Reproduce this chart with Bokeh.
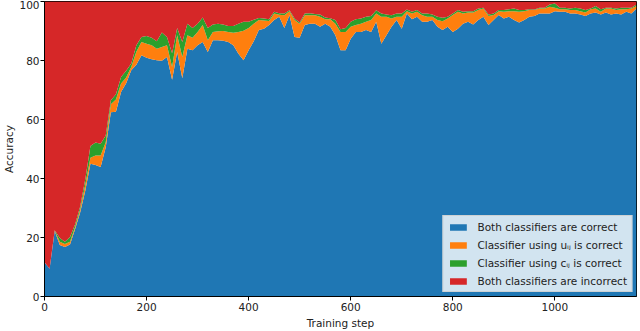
import numpy as np
from bokeh.plotting import figure
from bokeh.models import ColumnDataSource, Range1d, SingleIntervalTicker, Legend
from bokeh.embed import file_html
from bokeh.resources import INLINE

steps = list(range(0, 1170, 10))

both_correct = [
    11.6, 9.4, 22.2, 17.5, 16.8, 17.6, 22.9, 28.6, 35.9, 45.0,
    44.6, 43.9, 50.6, 62.5, 62.6, 69.3, 72.3, 76.7, 78.6, 81.8,
    80.9, 80.4, 80.1, 79.9, 81.2, 73.5, 82.9, 74.0, 84.0, 83.5,
    85.2, 86.3, 82.9, 86.9, 86.9, 86.7, 86.3, 85.2, 82.3, 80.1,
    83.5, 86.5, 90.3, 90.8, 92.0, 93.7, 94.8, 91.0, 95.3, 88.0,
    87.7, 92.0, 92.5, 92.5, 91.4, 92.5, 91.4, 88.6, 83.5, 83.5,
    87.4, 89.7, 89.7, 90.3, 89.7, 93.1, 85.7, 88.6, 91.4, 93.7,
    90.8, 95.9, 94.0, 94.8, 93.1, 93.1, 93.7, 91.4, 90.3, 91.4,
    89.7, 90.8, 92.5, 93.1, 92.2, 93.7, 94.8, 92.0, 93.7, 95.4,
    94.2, 94.8, 93.7, 92.9, 93.7, 94.8, 95.1, 95.9, 95.9, 95.9,
    96.7, 96.5, 96.5, 95.9, 95.9, 95.6, 95.1, 95.9, 96.3, 95.6,
    96.3, 95.6, 95.9, 95.6, 96.5, 95.9, 97.6,
]

u_correct = [
    0.0, 0.0, 0.1, 1.1, 1.0, 1.0, 0.7, 1.0, 2.1, 2.0,
    3.2, 3.9, 1.7, 2.7, 4.2, 2.9, 1.9, 1.1, 4.4, 4.5,
    4.8, 4.8, 3.9, 4.7, 4.0, 4.3, 5.7, 7.2, 4.6, 4.2,
    4.5, 5.7, 4.0, 2.8, 3.0, 3.3, 3.4, 4.2, 7.4, 10.0,
    7.5, 6.0, 3.4, 2.8, 1.4, 2.2, 0.7, 4.3, 1.4, 5.7,
    4.8, 3.3, 2.8, 2.8, 3.4, 1.5, 2.6, 3.9, 6.2, 6.2,
    4.0, 2.3, 2.8, 2.8, 4.0, 2.8, 9.1, 6.2, 2.8, 1.1,
    4.0, 0.8, 1.9, 1.7, 2.2, 1.7, 1.1, 2.3, 3.0, 2.8,
    5.7, 5.7, 3.4, 3.2, 4.1, 3.4, 2.8, 3.1, 1.7, 1.3,
    2.3, 1.9, 3.0, 3.6, 3.0, 2.3, 2.0, 1.7, 1.7, 2.3,
    1.2, 0.9, 0.9, 1.2, 1.2, 1.1, 1.2, 1.5, 1.3, 0.9,
    1.3, 2.0, 1.2, 1.8, 0.9, 1.7, 0.9,
]

c_correct = [
    0.0, 0.0, 0.2, 1.2, 0.8, 1.6, 0.9, 1.0, 1.8, 4.0,
    4.4, 4.0, 2.3, 1.3, 1.8, 2.2, 2.3, 1.2, 2.2, 1.7,
    2.6, 2.5, 2.5, 4.9, 2.8, 4.7, 2.4, 5.1, 3.9, 3.3,
    2.8, 2.6, 4.1, 2.5, 2.6, 2.2, 2.0, 2.3, 2.8, 3.0,
    2.1, 1.3, 0.7, 0.6, 0.6, 0.6, 0.5, 0.6, 0.3, 0.5,
    0.4, 0.6, 0.7, 0.5, 0.8, 0.6, 0.3, 1.2, 0.9, 1.3,
    1.7, 2.0, 1.7, 1.7, 1.4, 1.1, 1.1, 0.8, 1.1, 1.1,
    1.1, 0.6, 0.6, 0.6, 0.6, 1.1, 0.8, 1.1, 1.2, 0.6,
    0.5, 0.6, 0.6, 0.4, 0.4, 0.5, 0.3, 0.5, 0.5, 0.4,
    0.6, 0.7, 0.9, 0.6, 0.4, 0.3, 0.2, 0.3, 0.3, 0.8,
    1.4, 0.5, 0.5, 0.5, 0.8, 0.9, 0.8, 0.2, 0.9, 0.9,
    0.3, 0.3, 0.5, 0.5, 0.5, 0.3, 0.5,
]

labels = [
    "Both classifiers are correct",
    "Classifier using u\u1d62\u2c7c is correct",
    "Classifier using c\u1d62\u2c7c is correct",
    "Both classifiers are incorrect",
]
colors = ["#1f77b4", "#ff7f0e", "#2ca02c", "#d62728"]

both = np.array(both_correct)
u = np.array(u_correct)
c = np.array(c_correct)
incorrect = 100.0 - (both + u + c)

source = ColumnDataSource(dict(x=steps, both=both, u=u, c=c, inc=incorrect))

FONT = "DejaVu Sans"

p = figure(width=640, height=331, output_backend="svg", toolbar_location=None,
           x_range=Range1d(0, steps[-1]), y_range=Range1d(0, 100),
           min_border_left=40, min_border_right=4, min_border_top=1, min_border_bottom=34)

renderers = p.varea_stack(stackers=["both", "u", "c", "inc"], x="x", color=colors,
                          source=source)

legend = Legend(items=[(lab, [r]) for lab, r in zip(labels, renderers)],
                location="bottom_right")
legend.margin = 4
legend.padding = 4
legend.spacing = 5
legend.label_standoff = 9
legend.glyph_width = 21
legend.glyph_height = 8
legend.label_height = 13
legend.label_text_font = FONT
legend.label_text_font_size = "10.5px"
legend.label_text_color = "#222222"
legend.background_fill_color = "white"
legend.background_fill_alpha = 0.8
legend.border_line_color = "#cccccc"
legend.border_line_alpha = 0.8
p.add_layout(legend, "center")

p.grid.visible = False
p.outline_line_color = "black"
p.outline_line_width = 1
p.background_fill_color = "white"

p.xaxis.ticker = SingleIntervalTicker(interval=200)
p.yaxis.ticker = SingleIntervalTicker(interval=20)
p.xaxis.axis_label = "Training step"
p.yaxis.axis_label = "Accuracy"
for ax in (p.xaxis, p.yaxis):
    ax.axis_label_text_font = FONT
    ax.axis_label_text_font_size = "10.5px"
    ax.axis_label_text_font_style = "normal"
    ax.axis_label_text_color = "#222222"
    ax.major_label_text_font = FONT
    ax.major_label_text_font_size = "10.5px"
    ax.major_label_text_color = "#222222"
    ax.major_tick_out = 4
    ax.major_tick_in = 0
    ax.minor_tick_out = 0
    ax.minor_tick_in = 0
    ax.axis_line_color = "black"
    ax.major_tick_line_color = "black"
p.yaxis.major_label_standoff = 1
p.yaxis.axis_label_standoff = 1
p.xaxis.major_label_standoff = 2
p.xaxis.axis_label_standoff = 3

with open("out.html", "w") as f:
    f.write(file_html(p, INLINE))
